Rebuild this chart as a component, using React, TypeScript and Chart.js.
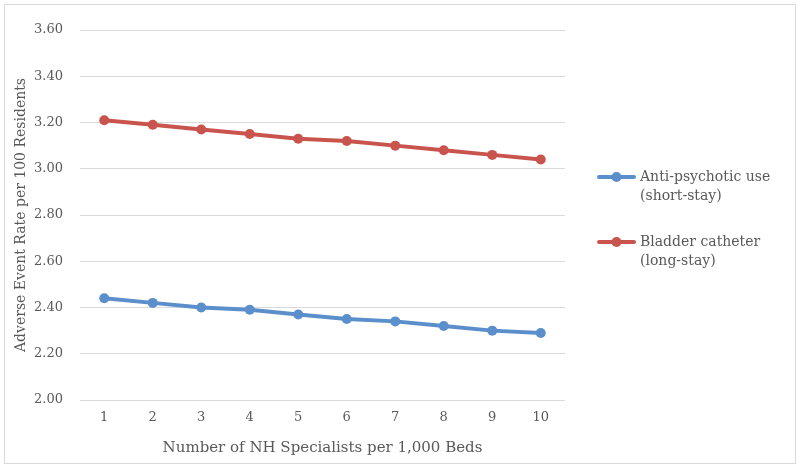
import React, { useEffect, useRef } from "react";
import { Chart, registerables } from "chart.js";

Chart.register(...registerables);

const categories = ["1", "2", "3", "4", "5", "6", "7", "8", "9", "10"];
const antiPsychotic = [2.44, 2.42, 2.4, 2.39, 2.37, 2.35, 2.34, 2.32, 2.3, 2.29];
const bladderCatheter = [3.21, 3.19, 3.17, 3.15, 3.13, 3.12, 3.1, 3.08, 3.06, 3.04];
const seriesLabels = [
  ["Anti-psychotic use", "(short-stay)"],
  ["Bladder catheter", "(long-stay)"],
];
const seriesColors = ["#5B8FCB", "#C9544D"];
const xTitle = "Number of NH Specialists per 1,000 Beds";
const yTitle = "Adverse Event Rate per 100 Residents";

const FONT = "'DejaVu Serif', serif";
const TEXT = "#595959";

const legendPlugin = {
  id: "customLegend",
  afterDraw(chart: any) {
    const ctx = chart.ctx;
    ctx.save();
    ctx.strokeStyle = "#d9d9d9";
    ctx.lineWidth = 1;
    ctx.strokeRect(4.5, 4.5, 791, 459);
    const items = chart.data.datasets;
    const startY = [177, 242];
    items.forEach((ds: any, i: number) => {
      const y = startY[i];
      ctx.strokeStyle = ds.borderColor;
      ctx.lineWidth = 4;
      ctx.lineCap = "round";
      ctx.beginPath();
      ctx.moveTo(599, y);
      ctx.lineTo(634, y);
      ctx.stroke();
      ctx.fillStyle = ds.borderColor;
      ctx.beginPath();
      ctx.arc(616.5, y, 5, 0, Math.PI * 2);
      ctx.fill();
      ctx.fillStyle = TEXT;
      ctx.font = `14px ${FONT}`;
      ctx.textBaseline = "middle";
      ctx.textAlign = "left";
      const lines: string[] = ds.legendLines;
      lines.forEach((t, j) => ctx.fillText(t, 640, y + j * 19));
    });
    ctx.restore();
  },
};

export default function App() {
  const ref = useRef<HTMLCanvasElement | null>(null);
  useEffect(() => {
    document.body.style.margin = "0";
    const chart = new Chart(ref.current as HTMLCanvasElement, {
      type: "line",
      data: {
        labels: categories,
        datasets: [
          {
            label: seriesLabels[0].join(" "),
            legendLines: seriesLabels[0],
            data: antiPsychotic,
            borderColor: seriesColors[0],
            backgroundColor: seriesColors[0],
            borderWidth: 4,
            pointRadius: 5,
            pointHoverRadius: 5,
            pointBorderWidth: 0,
            tension: 0,
          } as any,
          {
            label: seriesLabels[1].join(" "),
            legendLines: seriesLabels[1],
            data: bladderCatheter,
            borderColor: seriesColors[1],
            backgroundColor: seriesColors[1],
            borderWidth: 4,
            pointRadius: 5,
            pointHoverRadius: 5,
            pointBorderWidth: 0,
            tension: 0,
          } as any,
        ],
      },
      options: {
        animation: false,
        responsive: false,
        layout: { padding: { left: 10, top: 30, right: 235, bottom: 10 } },
        plugins: {
          legend: { display: false },
          tooltip: { enabled: false },
        },
        scales: {
          x: {
            offset: true,
            grid: { display: false, drawTicks: false },
            border: { display: false },
            ticks: { color: TEXT, font: { family: FONT, size: 13 }, padding: 10 },
            title: {
              display: true,
              text: xTitle,
              color: TEXT,
              font: { family: FONT, size: 15 },
              padding: { top: 4, bottom: 6 },
            },
            afterFit: (s: any) => {
              s.height = 63;
            },
          },
          y: {
            min: 2,
            max: 3.6,
            grid: { color: "#d9d9d9", drawTicks: false, lineWidth: 1 },
            border: { display: false },
            ticks: {
              stepSize: 0.2,
              color: TEXT,
              font: { family: FONT, size: 13 },
              padding: 17,
              callback: (v: any) => Number(v).toFixed(2),
            },
            title: {
              display: true,
              text: yTitle,
              color: TEXT,
              font: { family: FONT, size: 14 },
              padding: { top: 3, bottom: 4 },
            },
            afterFit: (s: any) => {
              s.width = 70;
            },
          },
        },
      } as any,
      plugins: [legendPlugin],
    });
    return () => chart.destroy();
  }, []);
  return (
    <div style={{ width: 800, height: 473 }}>
      <canvas ref={ref} width={800} height={473} style={{ display: "block" }} />
    </div>
  );
}
